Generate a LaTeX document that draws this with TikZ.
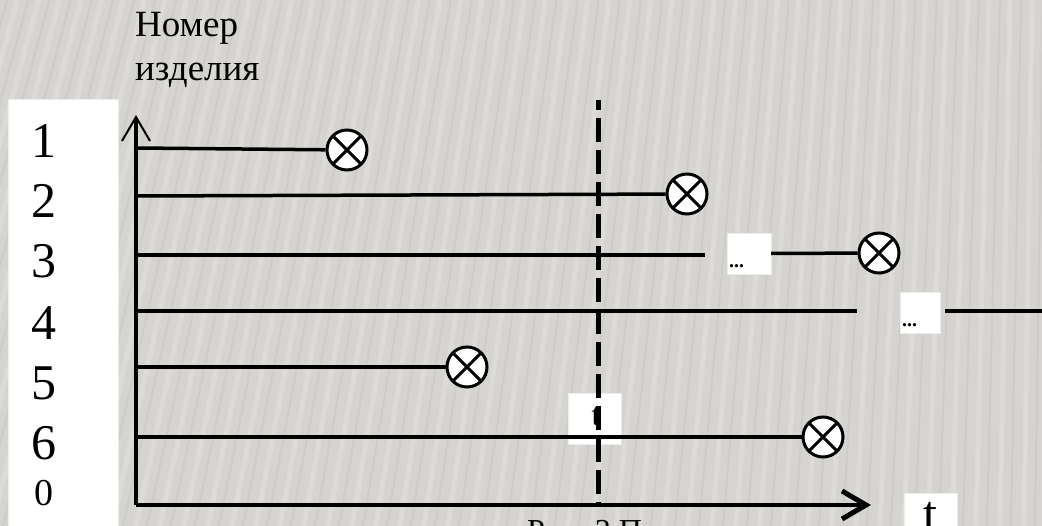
\documentclass[tikz,border=0pt]{standalone}
\usepackage{fontspec}
\setmainfont{Liberation Serif}
\usetikzlibrary{arrows.meta}
\definecolor{bggray}{HTML}{D5D4D0}
\definecolor{stripelight}{HTML}{E2E1DD}
\definecolor{stripedark}{HTML}{C5C4C0}
\begin{document}
\begin{tikzpicture}[x=1pt,y=-1pt,
  hline/.style={line width=3.5pt,black},
  failmark/.style={circle,draw=black,line width=3pt,fill=white,minimum size=40pt,inner sep=0pt,
    path picture={\draw[line width=3pt] (path picture bounding box.north west) -- (path picture bounding box.south east)
      (path picture bounding box.north east) -- (path picture bounding box.south west);}},
  whitebox/.style={rectangle,fill=white,draw=white!85!gray,line width=0.4pt,inner sep=0pt},
  numlabel/.style={anchor=base,inner sep=0pt,font=\fontsize{50}{50}\selectfont},
  titletext/.style={anchor=base west,inner sep=0pt,font=\fontsize{37}{37}\selectfont},
  dotstext/.style={anchor=south west,inner sep=0pt,font=\fontsize{20}{20}\selectfont\bfseries},
  axisline/.style={line width=3.5pt,black}
]
\useasboundingbox (0,0) rectangle (1042,526);
\clip (0,0) rectangle (1042,526);
% background
\fill[bggray] (0,0) rectangle (1042,526);
\foreach \i in {-200,-176,...,1100} {
  \pgfmathsetmacro{\sl}{max(8,130-0.12*\i)}
  \draw[stripelight,line width=5pt,opacity=0.55] (\i,526) -- (\i+\sl,0);
  \draw[stripedark,line width=2pt,opacity=0.45] (\i+11,526) -- (\i+11+\sl,0);
}
% left box with numbers
\node[whitebox,minimum width=110pt,minimum height=440pt,anchor=north west] (numbox) at (8,99) {};
\node[numlabel] (n1) at (44,158) {1};
\node[numlabel] (n2) at (44,218) {2};
\node[numlabel] (n3) at (44,278) {3};
\node[numlabel] (n4) at (44,340) {4};
\node[numlabel] (n5) at (44,400) {5};
\node[numlabel] (n6) at (44,460) {6};
\node[numlabel,font=\fontsize{38}{38}\selectfont] (n0) at (44,505) {0};
% title
\node[titletext] (title1) at (135,37) {Номер};
\node[titletext] (title2) at (135,81) {изделия};
% caption (cut off by the lower edge, as in the reference)
\node[titletext,font=\fontsize{32}{32}\selectfont] (caption) at (527,541) {Рис. 3 П};
% coordinates
\coordinate (O) at (136,505);
\coordinate (ytop) at (136,115);
\coordinate (xend) at (871,505);
\coordinate (s1) at (136,148);
\coordinate (s2) at (136,196);
\coordinate (s3) at (136,255);
\coordinate (s4) at (136,311);
\coordinate (s5) at (136,367);
\coordinate (s6) at (136,437);
\coordinate (e3) at (705,255);
\coordinate (e4) at (857,311);
\coordinate (f4) at (945,311);
\coordinate (g4) at (1050,311);
\coordinate (dtop) at (598,100);
\coordinate (dbot) at (598,505);
% boxes
\node[whitebox,minimum width=53pt,minimum height=51pt] (tbox) at (594.5,418.5) {};
\node[anchor=base,inner sep=0pt,font=\fontsize{32}{32}\selectfont] (tlabel) at (596,426) {t};
\node[whitebox,minimum width=44pt,minimum height=41pt] (d1) at (749,253.5) {};
\node[dotstext] (d1t) at ([shift={(2pt,6pt)}]d1.south west) {...};
\node[whitebox,minimum width=40pt,minimum height=41pt] (d2) at (920,312.5) {};
\node[dotstext] (d2t) at ([shift={(2pt,6pt)}]d2.south west) {...};
\node[whitebox,minimum width=53pt,minimum height=40pt,anchor=north west] (tbox2) at (904,493) {};
\node[anchor=base,inner sep=0pt,font=\fontsize{50}{50}\selectfont] (taxis) at (930,530) {t};
% failure marks
\node[failmark] (c1) at (347,150) {};
\node[failmark] (c2) at (687,194) {};
\node[failmark] (c3) at (879,253) {};
\node[failmark] (c5) at (467,367) {};
\node[failmark] (c6) at (823,437) {};
% lines
\draw[hline] (s1) -- (c1);
\draw[hline] (s2) -- (c2);
\draw[hline] (s3) -- (e3);
\draw[hline] (d1.east) -- (c3);
\draw[hline] (s4) -- (e4);
\draw[hline] (f4) -- (g4);
\draw[hline] (s5) -- (c5);
\draw[hline] (s6) -- (c6);
% axes
\draw[axisline,-{Straight Barb[length=24pt,width=28pt,line width=2pt]}] (O) -- (ytop);
\draw[axisline,-{Straight Barb[length=24pt,width=28pt,line width=5pt]}] (O) -- (xend);
% dashed line
\draw[line width=5pt,dash pattern=on 24pt off 8pt,dash phase=14pt] (dtop) -- (dbot);
\end{tikzpicture}
\end{document}
